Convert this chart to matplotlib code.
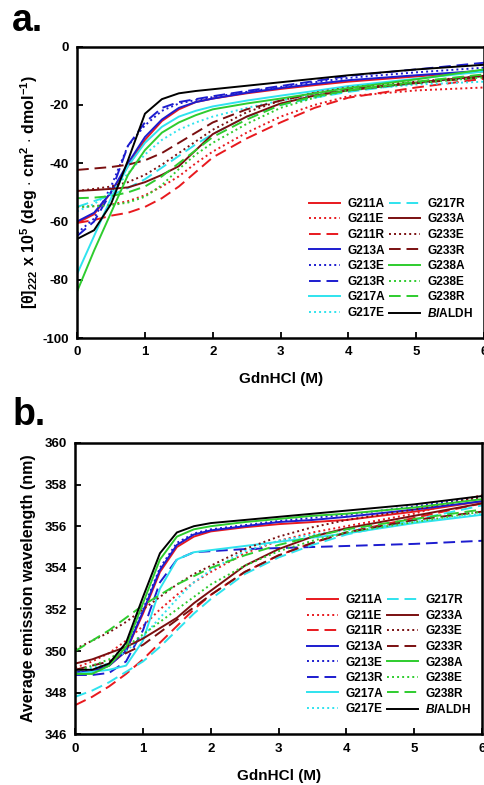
import numpy as np
import matplotlib
matplotlib.use('Agg')
import matplotlib.pyplot as plt

plt.rcParams['font.family'] = ['Liberation Sans', 'DejaVu Sans']
plt.rcParams['font.weight'] = 'bold'
plt.rcParams['axes.unicode_minus'] = False
plt.rcParams['mathtext.fontset'] = 'custom'
plt.rcParams['mathtext.rm'] = 'Liberation Sans:bold'
plt.rcParams['mathtext.it'] = 'Liberation Sans:bold:italic'
plt.rcParams['mathtext.bf'] = 'Liberation Sans:bold'

# -------------------------------------------------------------------------
# Data
# -------------------------------------------------------------------------
gdn = [0, 0.25, 0.5, 0.75, 1.0, 1.25, 1.5, 1.75, 2.0, 2.5, 3.0, 3.5, 4.0, 5.0, 6.0]

labels = ['G211A', 'G211E', 'G211R', 'G213A', 'G213E', 'G213R', 'G217A', 'G217E',
          'G217R', 'G233A', 'G233E', 'G233R', 'G238A', 'G238E', 'G238R',
          r'$\mathit{Bl}$ALDH']

# panel a: [theta]222
cd_G211A = [-60.5, -57.5, -50, -41, -32, -25.5, -21.5, -19, -17.8, -16, -14.5, -13.2, -12, -10.2, -8.5]
cd_G211E = [-55, -54.7, -54.2, -53, -51, -48, -44.5, -40, -36, -29.5, -24, -20, -17, -15, -14]
cd_G211R = [-60.5, -59.5, -58, -57, -55, -52, -48, -43, -38, -31.5, -26, -21, -17.5, -14, -11]
cd_G213A = [-60, -57, -50, -40, -31, -25, -21, -19, -17.8, -15.8, -14.2, -12.8, -11.5, -9.8, -8.2]
cd_G213E = [-64, -59, -48, -34, -27, -22, -19.5, -18.3, -17.3, -15.5, -13.8, -12.2, -10.7, -8.8, -7.2]
cd_G213R = [-65, -60, -50, -34, -26, -21, -19, -18, -17, -15.2, -13.5, -11.8, -10, -7.8, -5.5]
cd_G217A = [-78, -65, -52, -41, -33, -27.5, -24, -22, -20.5, -18.5, -16.8, -15.2, -13.5, -11, -8.5]
cd_G217E = [-56.5, -54, -50, -43.5, -37, -32, -28.5, -26, -24, -21, -18.5, -16.5, -15, -13, -12]
cd_G217R = [-55, -53, -51, -48.5, -45.5, -41.5, -37.5, -33.5, -30, -24, -20, -17.5, -15.5, -12.5, -10]
cd_G233A = [-49.5, -49.2, -48.8, -48.3, -46.5, -44, -41, -35.5, -30, -24, -19.5, -16.8, -15, -12.3, -10]
cd_G233E = [-49.5, -48.8, -48, -46.5, -44, -40.5, -36.5, -32.5, -28.5, -22.5, -18.5, -15.8, -14, -12, -10]
cd_G233R = [-42.3, -41.8, -41.3, -40.5, -39, -36.5, -33, -29.5, -26, -21.5, -18.5, -16, -14.5, -12.5, -10.5]
cd_G238A = [-84, -70, -57, -44, -35.5, -29.5, -26, -23.5, -21.5, -19.5, -17.8, -16, -14.2, -11.2, -7.8]
cd_G238E = [-55, -54.8, -54.4, -53.5, -51.5, -47.5, -42, -37, -33, -26.5, -21, -17.5, -15, -12.5, -10.5]
cd_G238R = [-52, -51.8, -51.3, -50, -48, -44.5, -40, -35.5, -31, -25, -20, -17, -15, -12, -9.5]
cd_BlALDH = [-66, -63, -54, -39, -23, -18, -16, -15.2, -14.6, -13.4, -12.2, -11, -9.8, -7.8, -6.2]

# panel b: average emission wavelength (nm)
em_G211A = [349.0, 349.0, 349.3, 350.0, 351.8, 353.8, 355.0, 355.5, 355.75, 355.95, 356.1, 356.2, 356.3, 356.7, 357.2]
em_G211E = [349.2, 349.5, 349.9, 350.5, 351.2, 352.0, 352.7, 353.3, 353.8, 354.7, 355.3, 355.7, 356.0, 356.6, 357.5]
em_G211R = [347.4, 347.8, 348.3, 348.9, 349.6, 350.4, 351.2, 352.0, 352.7, 353.8, 354.6, 355.2, 355.7, 356.4, 357.1]
em_G213A = [349.0, 349.0, 349.3, 350.0, 351.9, 353.9, 355.1, 355.6, 355.8, 356.0, 356.2, 356.3, 356.45, 356.8, 357.2]
em_G213E = [349.1, 349.1, 349.3, 350.1, 352.0, 354.0, 355.2, 355.65, 355.85, 356.05, 356.25, 356.4, 356.55, 356.95, 357.4]
em_G213R = [348.85, 348.85, 348.95, 349.5, 351.0, 353.3, 354.4, 354.75, 354.8, 354.9, 354.95, 355.0, 355.05, 355.15, 355.3]
em_G217A = [348.9, 349.0, 349.1, 349.3, 350.5, 353.0, 354.4, 354.75, 354.85, 355.05, 355.25, 355.45, 355.65, 356.15, 356.55]
em_G217E = [349.0, 349.2, 349.4, 350.0, 350.7, 351.6, 352.5, 353.3, 353.9, 354.8, 355.3, 355.6, 355.8, 356.2, 356.6]
em_G217R = [347.8, 348.1, 348.5, 349.0, 349.5, 350.2, 351.0, 351.8, 352.5, 353.7, 354.5, 355.1, 355.6, 356.3, 357.0]
em_G233A = [349.4, 349.6, 349.9, 350.2, 350.6, 351.1, 351.6, 352.3, 352.9, 354.1, 354.9, 355.5, 355.9, 356.5, 357.1]
em_G233E = [350.1, 350.5, 350.9, 351.4, 352.0, 352.6, 353.2, 353.7, 354.1, 354.9, 355.5, 355.95, 356.3, 356.8, 357.4]
em_G233R = [349.1, 349.3, 349.5, 349.9, 350.3, 350.9, 351.5, 352.1, 352.7, 353.8, 354.6, 355.2, 355.7, 356.3, 356.7]
em_G238A = [348.9, 348.9, 349.3, 350.2, 352.3, 354.4, 355.5, 355.85, 356.0, 356.2, 356.35, 356.5, 356.6, 356.9, 357.3]
em_G238E = [349.0, 349.3, 349.6, 350.2, 350.8, 351.4, 352.0, 352.6, 353.2, 354.1, 354.8, 355.3, 355.7, 356.2, 356.7]
em_G238R = [350.0, 350.5, 351.0, 351.6, 352.2, 352.7, 353.2, 353.6, 354.0, 354.6, 355.1, 355.5, 355.85, 356.35, 356.8]
em_BlALDH = [349.1, 349.1, 349.4, 350.4, 352.6, 354.7, 355.7, 356.0, 356.15, 356.3, 356.45, 356.6, 356.75, 357.05, 357.45]

cd_all = [cd_G211A, cd_G211E, cd_G211R, cd_G213A, cd_G213E, cd_G213R, cd_G217A, cd_G217E,
          cd_G217R, cd_G233A, cd_G233E, cd_G233R, cd_G238A, cd_G238E, cd_G238R, cd_BlALDH]
em_all = [em_G211A, em_G211E, em_G211R, em_G213A, em_G213E, em_G213R, em_G217A, em_G217E,
          em_G217R, em_G233A, em_G233E, em_G233R, em_G238A, em_G238E, em_G238R, em_BlALDH]

# -------------------------------------------------------------------------
# Styles
# -------------------------------------------------------------------------
RED = '#e8191e'
BLUE = '#1c1ccf'
CYAN = '#2fe3ee'
BROWN = '#7a0f10'
GREEN = '#2ecc2e'

SOLID = '-'
DOT = (0, (1, 1.6))
DASH = (0, (6, 3))

colors = [RED, RED, RED, BLUE, BLUE, BLUE, CYAN, CYAN,
          CYAN, BROWN, BROWN, BROWN, GREEN, GREEN, GREEN, 'black']
styles = [SOLID, DOT, DASH, SOLID, DOT, DASH, SOLID, DOT,
          DASH, SOLID, DOT, DASH, SOLID, DOT, DASH, SOLID]


def style_axes(ax):
    for sp in ax.spines.values():
        sp.set_linewidth(1.8)
    ax.tick_params(direction='in', length=4, width=1.3, labelsize=9.5, pad=6)
    for t in ax.get_xticklabels() + ax.get_yticklabels():
        t.set_fontweight('bold')


def draw(ax, data):
    for y, c, ls, lab in zip(data, colors, styles, labels):
        ax.plot(gdn, y, color=c, linestyle=ls, linewidth=1.4, label=lab)
    leg = ax.legend(ncol=2, loc='lower right', bbox_to_anchor=(1.0, 0.025),
                    frameon=False, handlelength=2.6,
                    handletextpad=0.6, columnspacing=0.35, labelspacing=0.3,
                    prop={'weight': 'bold', 'size': 8.6})
    return leg


fig = plt.figure(figsize=(4.85, 7.85), dpi=100)

# --- Panel a ---
ax1 = fig.add_axes([0.159, 0.5694, 0.839, 0.3711])
draw(ax1, cd_all)
ax1.set_xlim(0, 6)
ax1.set_ylim(-100, 0)
ax1.set_xticks(range(0, 7))
ax1.set_yticks(range(-100, 1, 20))
ax1.set_xlabel('GdnHCl (M)', fontsize=11, fontweight='bold', labelpad=10)
ax1.set_ylabel(r'[θ]$_{222}$ x 10$^{5}$ (deg $\cdot$ cm$^{2}$ $\cdot$ dmol$^{-1}$)',
               fontsize=11.5, fontweight='bold', labelpad=2)
style_axes(ax1)
fig.text(0.025, 0.973, 'a.', fontsize=27, fontweight='bold', va='center')

# --- Panel b ---
ax2 = fig.add_axes([0.155, 0.0646, 0.839, 0.3711])
draw(ax2, em_all)
ax2.set_xlim(0, 6)
ax2.set_ylim(346, 360)
ax2.set_xticks(range(0, 7))
ax2.set_yticks(range(346, 361, 2))
ax2.set_xlabel('GdnHCl (M)', fontsize=11, fontweight='bold', labelpad=10)
ax2.set_ylabel('Average emission wavelength (nm)', fontsize=11.5, fontweight='bold', labelpad=6)
style_axes(ax2)
fig.text(0.025, 0.471, 'b.', fontsize=27, fontweight='bold', va='center')

fig.savefig('out.png', dpi=100)
